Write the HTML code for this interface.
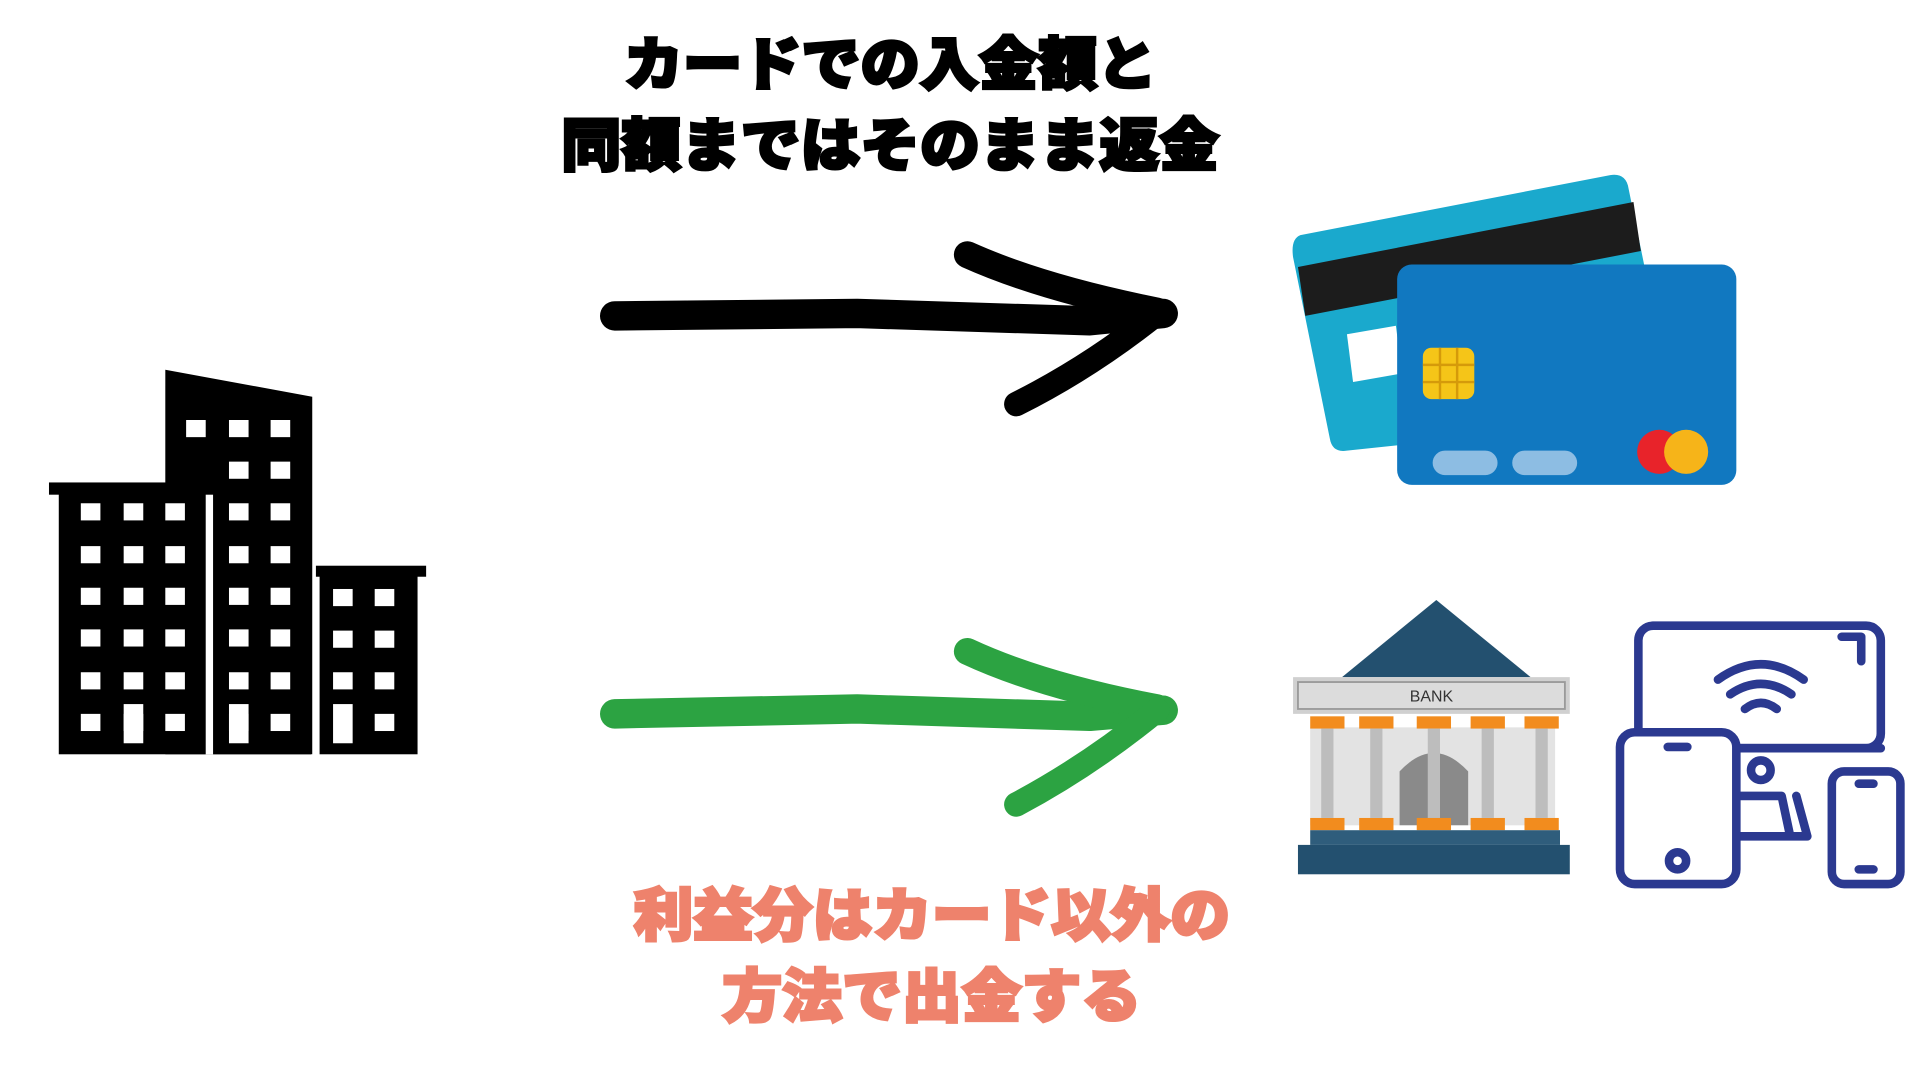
<!DOCTYPE html>
<html><head><meta charset="utf-8"><style>
html,body{margin:0;padding:0;background:#fff;width:100%;height:100%;overflow:hidden}
svg{display:block;width:100vw;height:100vh}
.t{font-family:"Liberation Sans","Noto Sans CJK JP",sans-serif;font-weight:900;text-anchor:middle}
</style></head><body>
<svg viewBox="0 0 1568 882" preserveAspectRatio="none" xmlns="http://www.w3.org/2000/svg">
<text class="t" x="727" y="69" font-size="47" textLength="435" lengthAdjust="spacingAndGlyphs" fill="#000" stroke="#000" stroke-width="2.5">カードでの入金額と</text>
<text class="t" x="727" y="135" font-size="47" textLength="537" lengthAdjust="spacingAndGlyphs" fill="#000" stroke="#000" stroke-width="2.5">同額まではそのまま返金</text>
<text class="t" x="761" y="764" font-size="47" textLength="487" lengthAdjust="spacingAndGlyphs" fill="#ee826c" stroke="#ee826c" stroke-width="2.5">利益分はカード以外の</text>
<text class="t" x="761" y="830" font-size="47" textLength="342" lengthAdjust="spacingAndGlyphs" fill="#ee826c" stroke="#ee826c" stroke-width="2.5">方法で出金する</text>

<g fill="none" stroke="#000" stroke-linecap="round" stroke-linejoin="round">
<path d="M502 258 L700 256 L890 262 L950 256" stroke-width="24"/>
<path d="M790 208 Q850 235 945 254" stroke-width="22"/>
<path d="M945 256 Q890 300 830 330" stroke-width="20"/>
</g>
<g fill="none" stroke="#2ca342" stroke-linecap="round" stroke-linejoin="round">
<path d="M502 583 L700 579 L890 585 L950 580" stroke-width="24"/>
<path d="M790 532 Q850 560 945 578" stroke-width="22"/>
<path d="M945 580 Q890 625 830 657" stroke-width="20"/>
</g>

<g fill="#000">
<polygon points="135,302 255,324 255,616 135,616"/>
<rect x="40" y="394" width="138" height="10"/>
<rect x="48" y="400" width="120" height="216"/>
<rect x="174" y="408" width="80" height="208"/>
<rect x="258" y="462" width="90" height="9"/>
<rect x="261" y="468" width="80" height="148"/>
</g>
<g fill="#fff">
<rect x="168" y="404" width="6" height="212"/>
<rect x="152" y="343" width="16" height="14"/><rect x="187" y="343" width="16" height="14"/><rect x="221" y="343" width="16" height="14"/>
<rect x="187" y="377" width="16" height="14"/><rect x="221" y="377" width="16" height="14"/>
<g id="col">
<rect x="66" y="411" width="16" height="14"/><rect x="66" y="446" width="16" height="14"/><rect x="66" y="480" width="16" height="14"/><rect x="66" y="514" width="16" height="14"/><rect x="66" y="549" width="16" height="14"/><rect x="66" y="583" width="16" height="14"/>
</g>
<use href="#col" x="35"/><use href="#col" x="69"/><use href="#col" x="121"/><use href="#col" x="155"/>
<rect x="272" y="481" width="16" height="14"/><rect x="306" y="481" width="16" height="14"/>
<rect x="272" y="515" width="16" height="14"/><rect x="306" y="515" width="16" height="14"/>
<rect x="272" y="549" width="16" height="14"/><rect x="306" y="549" width="16" height="14"/>
<rect x="306" y="583" width="16" height="14"/>
<rect x="101" y="575" width="16" height="32"/><rect x="187" y="575" width="16" height="32"/><rect x="272" y="575" width="16" height="32"/>
</g>

<g>
<path d="M1062 192 L1315 143 Q1328 141 1330 154 L1368 340 L1100 368 Q1088 370 1086 358 L1056 210 Q1054 195 1062 192Z" fill="#1aa9cd"/>
<polygon points="1060,218 1334,165 1340,205 1066,258" fill="#1c1c1c"/>
<polygon points="1100,273 1140,266 1145,305 1105,312" fill="#fff"/>
<rect x="1141" y="216" width="277" height="180" rx="12" fill="#1178c0"/>
<rect x="1162" y="284" width="42" height="42" rx="7" fill="#f5c518"/>
<path d="M1162 298 H1204 M1162 312 H1204 M1176 284 V326 M1190 284 V326" stroke="#d59a0a" stroke-width="2"/>
<rect x="1170" y="368" width="53" height="20" rx="10" fill="#8dbde3"/>
<rect x="1235" y="368" width="53" height="20" rx="10" fill="#8dbde3"/>
<circle cx="1355" cy="369" r="18" fill="#e8232a"/>
<circle cx="1377" cy="369" r="18" fill="#f6b419"/>
</g>

<g>
<polygon points="1173,490 1250,553 1096,553" fill="#23506f"/>
<rect x="1056" y="553" width="226" height="30" fill="#d0d0d0"/>
<rect x="1060" y="557" width="218" height="22" fill="#dcdcdc" stroke="#9a9a9a" stroke-width="1.5"/>
<text x="1169" y="573" font-family="Liberation Sans,sans-serif" font-size="13" text-anchor="middle" fill="#333">BANK</text>
<rect x="1070" y="594" width="200" height="80" fill="#e3e3e3"/>
<path d="M1143 674 V630 Q1171 600 1199 630 V674Z" fill="#8a8a8a"/>
<g fill="#f28c1e">
<rect x="1070" y="585" width="28" height="10"/><rect x="1110" y="585" width="28" height="10"/><rect x="1157" y="585" width="28" height="10"/><rect x="1201" y="585" width="28" height="10"/><rect x="1245" y="585" width="28" height="10"/>
<rect x="1070" y="668" width="28" height="10"/><rect x="1110" y="668" width="28" height="10"/><rect x="1157" y="668" width="28" height="10"/><rect x="1201" y="668" width="28" height="10"/><rect x="1245" y="668" width="28" height="10"/>
</g>
<g fill="#bdbdbd">
<rect x="1079" y="595" width="10" height="73"/><rect x="1119" y="595" width="10" height="73"/><rect x="1166" y="595" width="10" height="73"/><rect x="1210" y="595" width="10" height="73"/><rect x="1254" y="595" width="10" height="73"/>
</g>
<rect x="1070" y="678" width="204" height="12" fill="#2f5d7c"/>
<rect x="1060" y="690" width="222" height="24" fill="#23506f"/>
</g>

<g fill="none" stroke="#2b3990" stroke-width="7" stroke-linejoin="round" stroke-linecap="round">
<rect x="1338" y="511" width="198" height="100" rx="12"/>
<path d="M1418 611 H1536 M1504 520 H1520 V540"/>
<path d="M1403 555 Q1438 530 1473 555 M1413 567 Q1438 550 1463 567 M1425 579 Q1438 569 1451 579"/>
<path d="M1420 650 H1455 L1462 683 H1476 L1467 650 M1420 683 H1462"/>
<circle cx="1438" cy="629" r="8"/>
<rect x="1323" y="598" width="95" height="124" rx="12" fill="#fff"/>
<path d="M1362 610 H1378"/><circle cx="1370" cy="703" r="7"/>
<rect x="1496" y="630" width="56" height="92" rx="10" fill="#fff"/>
<path d="M1518 640 H1530 M1518 710 H1530"/>
</g>
</svg>
</body></html>
